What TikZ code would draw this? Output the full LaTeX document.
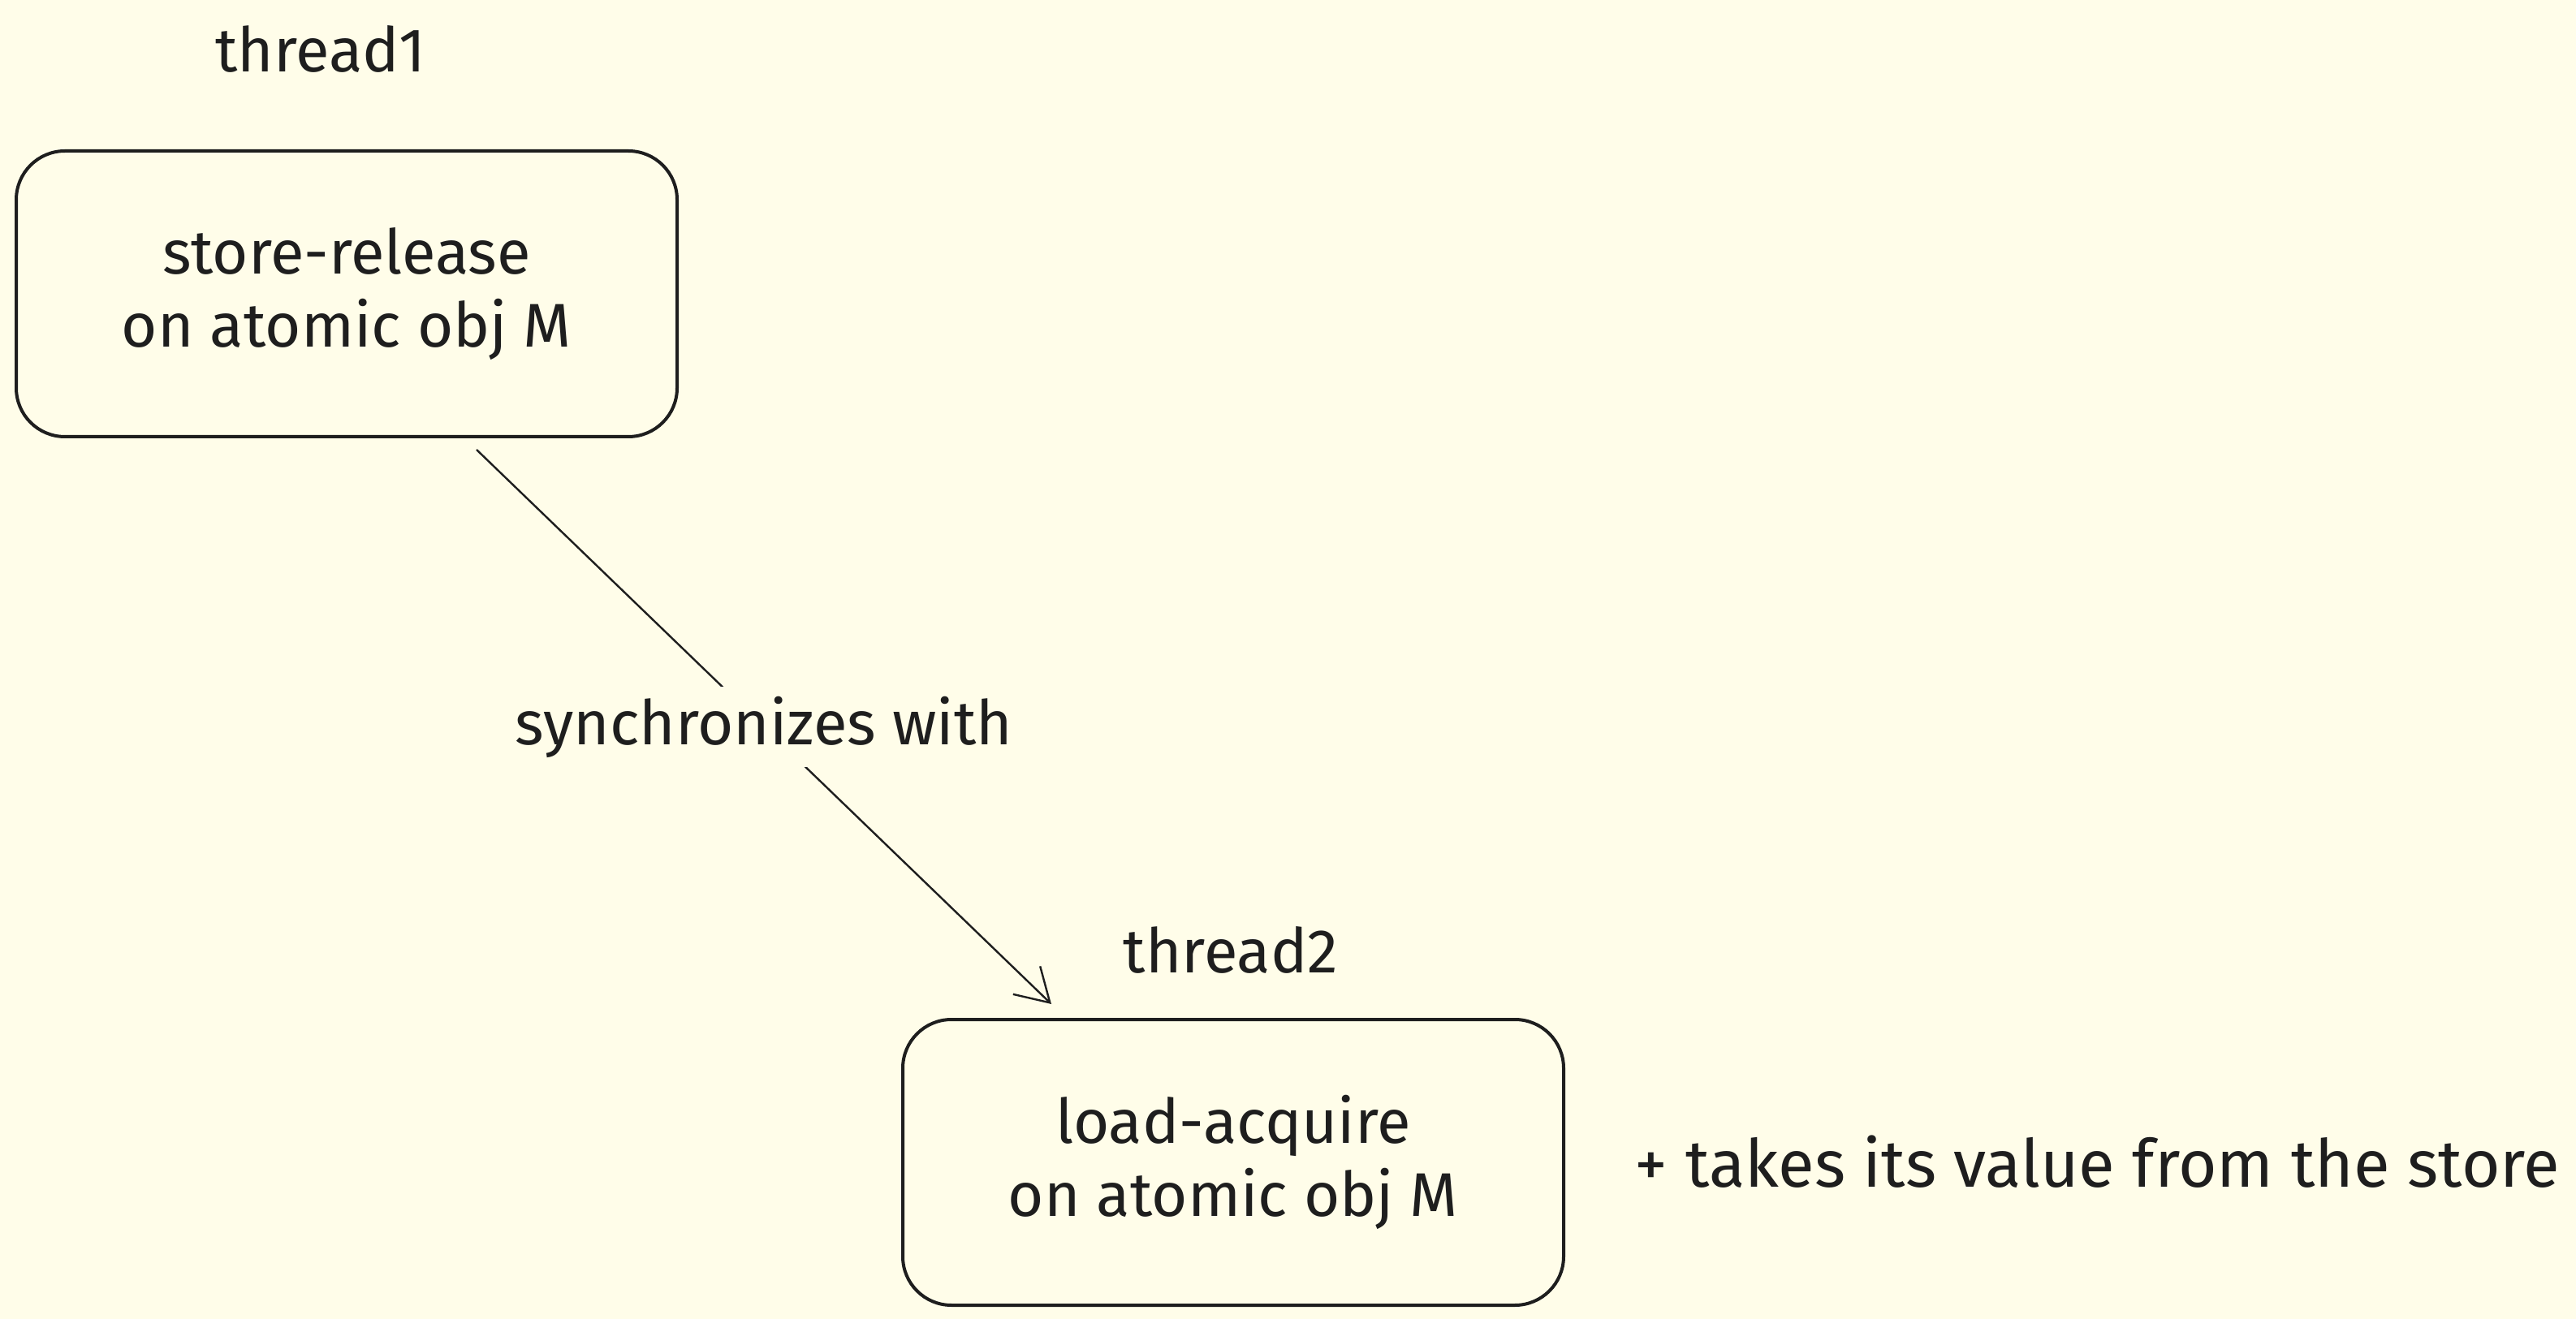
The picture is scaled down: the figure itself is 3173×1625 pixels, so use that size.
\documentclass[tikz,border=0pt]{standalone}
\usepackage{fontspec}
\setmainfont{Fira Sans}
\usetikzlibrary{arrows.meta,calc}
\definecolor{bg}{HTML}{FFFDE9}
\definecolor{ink}{HTML}{1E1E1E}
\begin{document}
\begin{tikzpicture}[x=0.25pt,y=-0.25pt,
  txt/.style={text=ink,font=\fontsize{19}{22.5}\selectfont,inner sep=0pt,align=center},
  opbox/.style={draw=ink,line width=1pt,rounded corners=15pt,fill=bg,minimum width=203.5pt,minimum height=88pt,inner sep=0pt,txt},
  conn/.style={draw=ink,line width=0.6pt,-{Straight Barb[length=10pt,width=12pt,line width=0.6pt]}},
  lbl/.style={txt,fill=bg,inner sep=3pt}]
\fill[bg] (0,0) rectangle (3173,1625);
\useasboundingbox (0,0) rectangle (3173,1625);
\node[txt] (t1) at (395,60) {thread1};
\node[opbox] (b1) at (427,362) {store-release\\on atomic obj M};
\node[txt] (t2) at (1516,1170) {thread2};
\node[opbox] (b2) at (1519,1432) {load-acquire\\on atomic obj M};
\node[txt,font=\fontsize{20.4}{23}\selectfont,anchor=west] (note) at (2013,1431) {+ takes its value from the store};
\coordinate (s) at ($(b1.south)+(160,14)$);
\coordinate (e) at ($(b2.north)+(-224,-17)$);
\draw[conn] (s) -- node[lbl] (sw) {synchronizes with} (e);
\end{tikzpicture}
\end{document}
